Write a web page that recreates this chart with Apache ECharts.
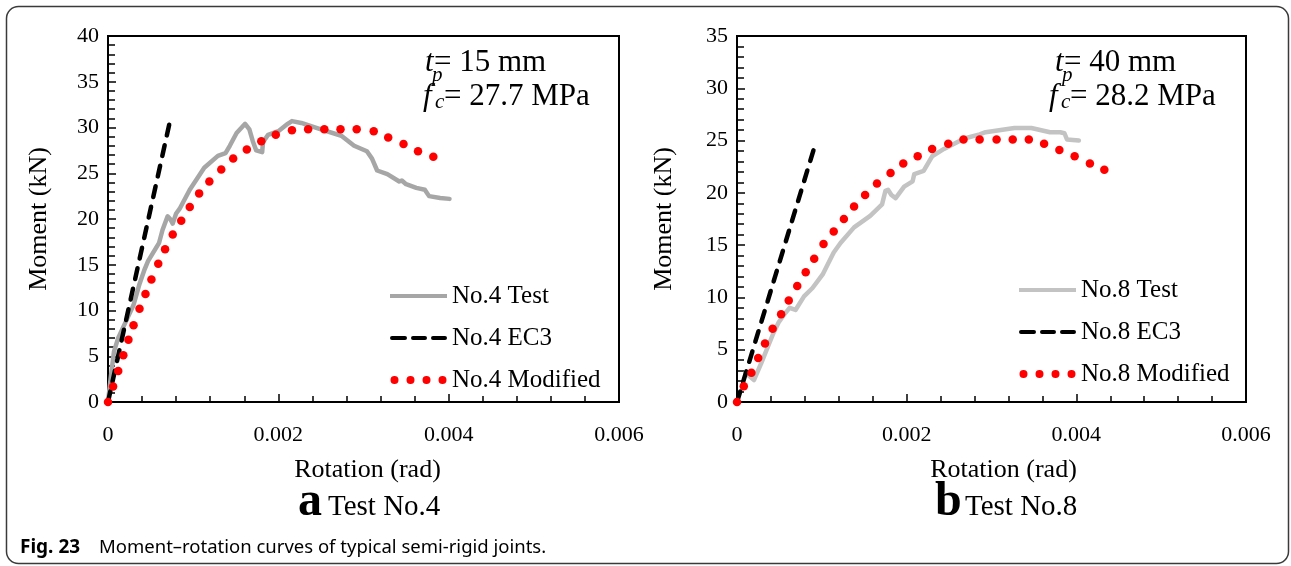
<!DOCTYPE html>
<html>
<head>
<meta charset="utf-8">
<script src="https://cdn.jsdelivr.net/npm/echarts@6/dist/echarts.min.js"></script>
<style>
html,body{margin:0;padding:0;background:#fff;}
#chart{width:1291px;height:566px;}
</style>
</head>
<body>
<div id="chart"></div>
<script>
// ---------- data ----------
const xTicks = [0, 0.002, 0.004, 0.006];
const yTicksA = [0, 5, 10, 15, 20, 25, 30, 35, 40];
const yTicksB = [0, 5, 10, 15, 20, 25, 30, 35];

const seriesNamesA = ['No.4 Test', 'No.4 EC3', 'No.4 Modified'];
const seriesNamesB = ['No.8 Test', 'No.8 EC3', 'No.8 Modified'];

const test4 = [[0,0],[0.00003,2.5],[0.00007,5.5],[0.00012,7.0],[0.00022,9.0],[0.0003,10.6],[0.00037,12.9],[0.00043,14.5],[0.00047,15.4],[0.0006,17.4],[0.00064,18.8],[0.0007,20.3],[0.00073,20.0],[0.00076,19.5],[0.0008,20.6],[0.00084,21.1],[0.00096,23.2],[0.00113,25.6],[0.00129,26.9],[0.00138,27.2],[0.00143,28.0],[0.00151,29.4],[0.00161,30.4],[0.00166,29.8],[0.0017,28.5],[0.00174,27.5],[0.00181,27.3],[0.00182,28.4],[0.00188,29.2],[0.002,29.6],[0.00211,30.4],[0.00216,30.7],[0.00227,30.5],[0.0025,29.8],[0.00274,29.1],[0.00289,28.0],[0.00304,27.4],[0.0031,26.6],[0.00316,25.3],[0.00328,24.9],[0.00342,24.1],[0.00345,24.2],[0.0035,23.8],[0.00362,23.4],[0.00372,23.2],[0.00377,22.5],[0.0039,22.3],[0.00401,22.2]];
const ec34 = [[0,0],[0.00073,30.8]];
const mod4 = [[0,0],[0.00006,1.7],[0.00012,3.4],[0.00018,5.1],[0.00024,6.8],[0.0003,8.4],[0.00037,10.2],[0.00044,11.8],[0.00051,13.4],[0.00059,15.1],[0.00067,16.7],[0.00076,18.3],[0.00086,19.8],[0.00096,21.3],[0.00107,22.8],[0.00119,24.1],[0.00133,25.4],[0.00147,26.6],[0.00163,27.6],[0.0018,28.5],[0.00197,29.2],[0.00216,29.7],[0.00235,29.8],[0.00254,29.8],[0.00273,29.8],[0.00292,29.8],[0.00312,29.6],[0.00329,28.9],[0.00347,28.2],[0.00364,27.4],[0.00382,26.8]];

const test8 = [[0.0001,2.8],[0.0002,2.1],[0.00029,3.8],[0.00035,5.0],[0.00043,6.6],[0.00049,7.6],[0.00055,8.3],[0.00062,9.0],[0.00069,8.8],[0.00079,10.1],[0.00089,10.9],[0.00101,12.2],[0.00106,13.0],[0.00114,14.3],[0.00122,15.2],[0.00138,16.7],[0.00157,17.8],[0.00171,18.9],[0.00175,20.2],[0.00178,20.3],[0.00182,19.8],[0.00187,19.5],[0.00197,20.6],[0.00207,21.1],[0.00209,21.8],[0.0022,22.1],[0.0023,23.5],[0.00244,24.2],[0.00268,25.2],[0.00286,25.6],[0.00293,25.8],[0.00327,26.2],[0.00347,26.2],[0.00369,25.8],[0.00381,25.8],[0.00386,25.7],[0.00389,25.1],[0.00403,25.0]];
const ec38 = [[0,0],[0.00091,24.3]];
const mod8 = [[0,0],[0.00008,1.5],[0.00017,2.8],[0.00025,4.2],[0.00033,5.6],[0.00042,7.0],[0.00052,8.4],[0.00061,9.7],[0.00071,11.1],[0.00081,12.4],[0.00091,13.7],[0.00102,15.1],[0.00114,16.3],[0.00126,17.5],[0.00138,18.7],[0.00151,19.8],[0.00165,20.9],[0.00181,21.9],[0.00196,22.8],[0.00213,23.5],[0.0023,24.2],[0.00249,24.7],[0.00267,25.1],[0.00286,25.1],[0.00306,25.1],[0.00325,25.1],[0.00344,25.1],[0.00362,24.7],[0.0038,24.1],[0.00398,23.5],[0.00416,22.8],[0.00433,22.2]];

// ---------- styling ----------
const SERIF = 'Liberation Serif';
const SANS = 'Noto Sans';
const GRAY_A = '#a6a6a6', GRAY_B = '#c3c3c3', RED = '#ff0000', BLACK = '#000000';

const ICON_SOLID = 'path://M0,0h57v4h-57z';
const ICON_DASH = 'path://M2,0h13a2,2 0 0 1 0,4h-13a2,2 0 0 1 0,-4z M23,0h12a2,2 0 0 1 0,4h-12a2,2 0 0 1 0,-4z M43,0h12a2,2 0 0 1 0,4h-12a2,2 0 0 1 0,-4z';
const ICON_DOTS = 'path://M0,4a4,4 0 1,0 8,0a4,4 0 1,0 -8,0z M16,4a4,4 0 1,0 8,0a4,4 0 1,0 -8,0z M32,4a4,4 0 1,0 8,0a4,4 0 1,0 -8,0z M48,4a4,4 0 1,0 8,0a4,4 0 1,0 -8,0z';

function xAxisCfg(gridIndex, namePad) {
  return {
    type: 'value', gridIndex,
    min: xTicks[0], max: xTicks[xTicks.length - 1], interval: xTicks[1] - xTicks[0],
    name: 'Rotation (rad)', nameLocation: 'middle', nameGap: 55,
    nameTextStyle: { fontFamily: SERIF, fontSize: 26, color: BLACK, padding: namePad },
    axisLine: { show: true, onZero: false, lineStyle: { color: BLACK, width: 2 } },
    axisTick: { show: true, inside: true, length: 8, lineStyle: { color: BLACK, width: 1.5 } },
    minorTick: { show: true, splitNumber: 5, length: 6, lineStyle: { color: BLACK, width: 1.5 } },
    axisLabel: { fontFamily: SERIF, fontSize: 22, color: BLACK, margin: 22,
      formatter: v => (v === 0 ? '0' : v.toFixed(3)) },
    splitLine: { show: false }
  };
}
function yAxisCfg(gridIndex, ticks, gap) {
  return {
    type: 'value', gridIndex,
    min: ticks[0], max: ticks[ticks.length - 1], interval: ticks[1] - ticks[0],
    name: 'Moment (kN)', nameLocation: 'middle', nameGap: gap,
    nameTextStyle: { fontFamily: SERIF, fontSize: 26, color: BLACK },
    axisLine: { show: true, onZero: false, lineStyle: { color: BLACK, width: 2 } },
    axisTick: { show: true, inside: true, length: 8, lineStyle: { color: BLACK, width: 1.5 } },
    minorTick: { show: true, splitNumber: 5, length: 7, lineStyle: { color: BLACK, width: 1.5 } },
    axisLabel: { fontFamily: SERIF, fontSize: 22, color: BLACK, margin: 9 },
    splitLine: { show: false }
  };
}
function testSeries(name, data, idx, color) {
  return { name, type: 'line', xAxisIndex: idx, yAxisIndex: idx, data, showSymbol: false, symbol: 'none',
    lineStyle: { color, width: 4.5, join: 'round', cap: 'round' }, itemStyle: { color }, z: 2 };
}
function ec3Series(name, data, idx) {
  return { name, type: 'line', xAxisIndex: idx, yAxisIndex: idx, data, showSymbol: false, symbol: 'none',
    lineStyle: { color: BLACK, width: 4.5, type: [11, 10], cap: 'round' }, itemStyle: { color: BLACK }, z: 3 };
}
function modSeries(name, data, idx) {
  return { name, type: 'line', xAxisIndex: idx, yAxisIndex: idx, data, showSymbol: true, showAllSymbol: true,
    symbol: 'circle', symbolSize: 8.5, lineStyle: { width: 0, opacity: 0 },
    itemStyle: { color: RED, borderWidth: 0 }, z: 4 };
}
function legendCfg(names, colorTest, left, top) {
  return {
    orient: 'vertical', left, top, padding: 0, itemWidth: 57, itemHeight: 8, itemGap: 14,
    selectedMode: false,
    textStyle: { fontFamily: SERIF, fontSize: 25, color: BLACK, lineHeight: 28 },
    itemStyle: { borderWidth: 0 },
    data: [
      { name: names[0], icon: ICON_SOLID, itemStyle: { color: colorTest, borderWidth: 0 } },
      { name: names[1], icon: ICON_DASH, itemStyle: { color: BLACK, borderWidth: 0 } },
      { name: names[2], icon: ICON_DOTS, itemStyle: { color: RED, borderWidth: 0 } }
    ]
  };
}
function txt(text, x, y, font, extra) {
  return { type: 'text', x, y, silent: true,
    style: Object.assign({ text, font, fill: BLACK, verticalAlign: 'middle', align: 'left' }, extra || {}) };
}
const F = (spec) => spec + ' "' + SERIF + '", serif';
const S = (spec) => spec + ' "' + SANS + '", sans-serif';

const chart = echarts.init(document.getElementById('chart'), null, { renderer: 'canvas' });
chart.setOption({
  animation: false,
  backgroundColor: '#ffffff',
  textStyle: { fontFamily: SERIF },
  grid: [
    { left: 108, top: 36, width: 511, height: 366, show: true, borderColor: BLACK, borderWidth: 2, backgroundColor: 'transparent' },
    { left: 737, top: 36, width: 509, height: 366, show: true, borderColor: BLACK, borderWidth: 2, backgroundColor: 'transparent' }
  ],
  xAxis: [xAxisCfg(0, [0, 0, 0, 8]), xAxisCfg(1, [0, 0, 0, 24])],
  yAxis: [yAxisCfg(0, yTicksA, 56), yAxisCfg(1, yTicksB, 60)],
  legend: [legendCfg(seriesNamesA, GRAY_A, 390, 282), legendCfg(seriesNamesB, GRAY_B, 1019, 276)],
  series: [
    testSeries(seriesNamesA[0], test4, 0, GRAY_A),
    ec3Series(seriesNamesA[1], ec34, 0),
    modSeries(seriesNamesA[2], mod4, 0),
    testSeries(seriesNamesB[0], test8, 1, GRAY_B),
    ec3Series(seriesNamesB[1], ec38, 1),
    modSeries(seriesNamesB[2], mod8, 1)
  ],
  graphic: [
    { type: 'rect', silent: true, shape: { x: 6.5, y: 6.5, width: 1282, height: 557, r: 12 },
      style: { fill: 'none', stroke: '#3a3a3a', lineWidth: 1.5 } },
    // annotations, left
    txt('t', 425, 63, F('italic 31px')),
    txt('p', 432, 75, F('italic 21px')),
    txt('= 15 mm', 434, 63, F('31px')),
    txt('f', 423, 97, F('italic 31px')),
    txt('c', 435, 102, F('italic 21px')),
    txt('= 27.7 MPa', 444, 97, F('31px')),
    // annotations, right
    txt('t', 1055, 63, F('italic 31px')),
    txt('p', 1062, 75, F('italic 21px')),
    txt('= 40 mm', 1064, 63, F('31px')),
    txt('f', 1049, 97, F('italic 31px')),
    txt('c', 1061, 102, F('italic 21px')),
    txt('= 28.2 MPa', 1070, 97, F('31px')),
    // subplot labels
    txt('a', 298, 503, F('bold 48px')),
    txt('Test No.4', 328, 507, F('29px')),
    txt('b', 935, 503, F('bold 48px')),
    txt('Test No.8', 965, 507, F('29px')),
    // caption
    txt('Fig. 23', 20, 548, S('bold 19px')),
    txt('Moment\u2013rotation curves of typical semi-rigid joints.', 99, 548, S('18.5px'))
  ]
});
</script>
</body>
</html>
